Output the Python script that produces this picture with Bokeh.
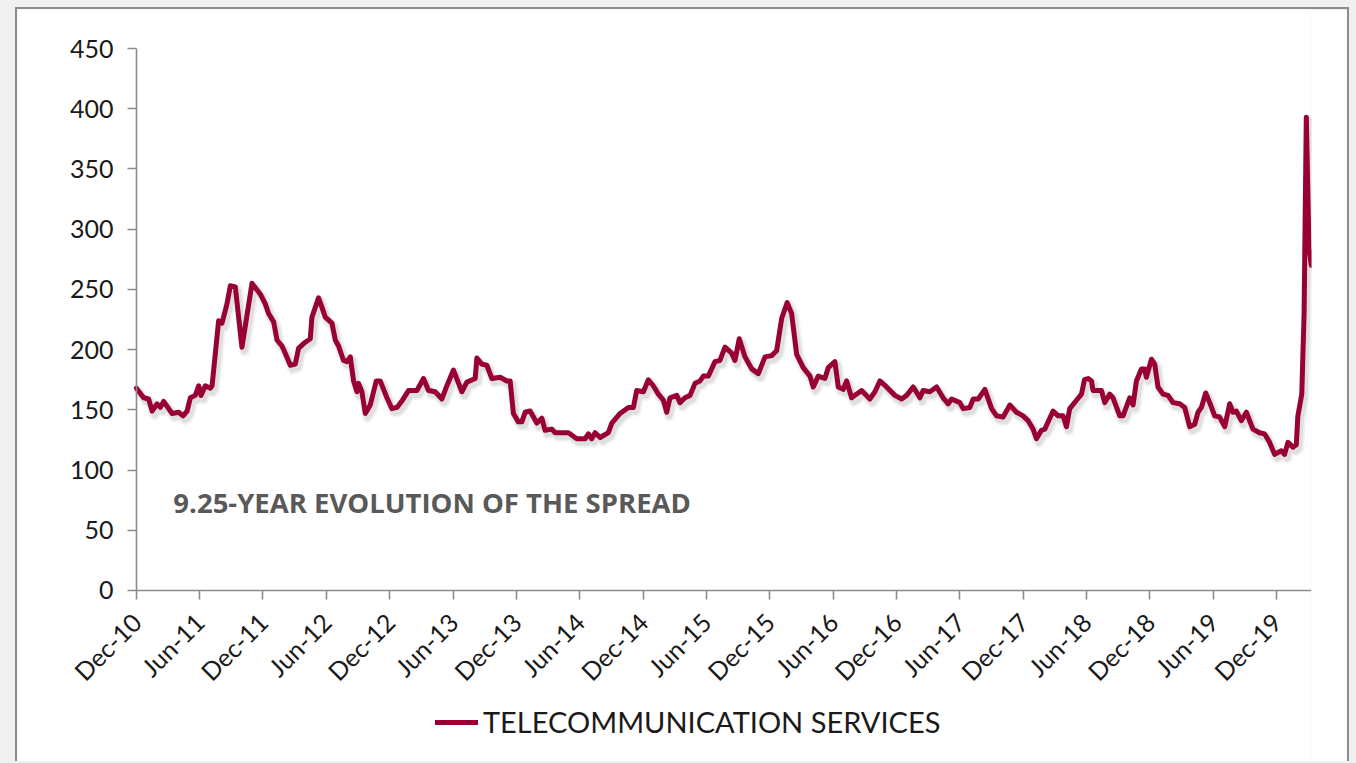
import numpy as np
import pandas as pd
from math import pi
from bokeh.plotting import figure
from bokeh.models import (Range1d, FixedTicker, DatetimeTickFormatter, Legend,
                          LegendItem, Label, ColumnDataSource)
from bokeh.layouts import column
from bokeh.embed import file_html
from bokeh.resources import INLINE

# ---------------- data ----------------
series_name = "TELECOMMUNICATION SERVICES"
annotation_text = "9.25-YEAR EVOLUTION OF THE SPREAD"

# observation time, in months elapsed since 1 Dec 2010
months_since_dec10 = [
    0.00, 0.69, 1.16, 1.49, 1.96, 2.27, 2.58, 3.38, 4.00, 4.42, 4.80, 5.11, 5.58, 5.90, 6.12, 6.53,
    7.00, 7.17, 7.79, 8.11, 8.58, 8.90, 9.37, 10.00, 10.95, 11.74, 12.21, 12.52, 13.00, 13.32, 13.79,
    14.10, 14.58, 15.05, 15.36, 15.84, 16.47, 16.63, 17.25, 17.58, 17.89, 18.52, 18.84, 19.15, 19.62,
    19.94, 20.26, 20.57, 20.89, 21.04, 21.36, 21.68, 22.15, 22.72, 23.09, 23.73, 24.20, 24.68, 25.20,
    25.77, 26.57, 27.19, 27.67, 28.30, 28.94, 29.41, 30.03, 30.83, 31.30, 32.09, 32.25, 32.72, 33.19,
    33.67, 34.45, 35.09, 35.40, 35.71, 36.18, 36.51, 36.82, 37.29, 37.93, 38.40, 38.71, 39.35, 39.66,
    40.92, 41.71, 42.50, 42.81, 43.13, 43.45, 43.92, 44.70, 45.03, 45.81, 46.60, 47.07, 47.39, 48.02,
    48.49, 48.96, 49.44, 49.91, 50.23, 50.54, 51.18, 51.49, 51.96, 52.44, 52.91, 53.38, 53.70, 54.17,
    54.80, 55.27, 55.75, 56.38, 56.69, 57.10, 57.64, 58.28, 58.90, 59.54, 60.17, 60.64, 61.12, 61.64,
    62.06, 62.54, 63.16, 63.80, 64.11, 64.58, 65.21, 65.53, 66.16, 66.48, 66.95, 67.27, 67.74, 68.69,
    69.47, 69.95, 70.42, 71.05, 71.84, 72.48, 72.95, 73.57, 74.21, 74.52, 75.15, 75.79, 76.41, 76.89,
    77.21, 77.99, 78.31, 78.94, 79.26, 79.73, 80.36, 81.00, 81.47, 82.09, 82.73, 83.36, 83.98, 84.46,
    84.93, 85.25, 85.72, 86.04, 86.82, 87.30, 87.77, 88.09, 88.40, 89.04, 89.51, 89.80, 90.15, 90.46,
    90.61, 91.41, 91.72, 92.19, 92.50, 93.14, 93.45, 94.08, 94.40, 94.72, 95.19, 95.50, 95.66, 96.14,
    96.45, 96.76, 97.24, 97.71, 98.18, 98.82, 99.29, 99.76, 100.24, 100.55, 100.87, 101.28, 101.66,
    102.13, 102.60, 103.08, 103.55, 103.86, 104.18, 104.65, 105.13, 105.75, 106.38, 106.86, 107.33,
    107.81, 108.44, 108.75, 109.07, 109.54, 109.86, 110.01, 110.38, 110.60, 110.81, 111.06, 111.28,
]

spread_bp = [
    168, 160, 159, 149, 155, 152, 157, 147, 148, 145, 149, 160, 162, 170, 162, 170,
    168, 170, 224, 222, 238, 253, 252, 202, 255, 246, 238, 230, 223, 208, 203,
    197, 187, 188, 201, 205, 209, 227, 243, 235, 227, 222, 208, 203, 191,
    190, 194, 174, 165, 172, 165, 147, 154, 174, 174, 160, 151, 152, 158,
    166, 166, 176, 166, 165, 159, 170, 183, 165, 173, 176, 193, 188, 187,
    176, 177, 174, 174, 147, 140, 140, 148, 149, 139, 143, 133, 134, 131,
    131, 126, 126, 130, 126, 131, 127, 131, 139, 147, 152, 152, 166, 165,
    175, 170, 163, 158, 148, 160, 162, 156, 160, 162, 172, 174, 178, 178,
    190, 191, 202, 197, 191, 209, 194, 184, 180, 194, 195, 199, 226, 239,
    230, 196, 185, 178, 169, 178, 176, 185, 190, 169, 167, 174, 160, 166,
    159, 165, 174, 169, 162, 159, 162, 169, 160, 166, 165, 169, 160, 155,
    159, 156, 151, 152, 159, 159, 167, 151, 145, 144, 154, 148, 145, 141,
    134, 126, 133, 134, 149, 145, 145, 136, 151, 158, 163, 175, 176, 174,
    166, 166, 156, 163, 160, 145, 145, 160, 154, 174, 184, 184, 177, 192,
    188, 169, 163, 162, 156, 155, 152, 136, 138, 148, 152, 164, 156,
    145, 144, 136, 155, 148, 149, 141, 148, 134, 131, 130, 123,
    113, 116, 113, 123, 119, 121, 145, 163, 230, 393, 285, 270,
]

x_tick_dates = ["2010-12-01", "2011-06-01", "2011-12-01", "2012-06-01", "2012-12-01",
                "2013-06-01", "2013-12-01", "2014-06-01", "2014-12-01", "2015-06-01",
                "2015-12-01", "2016-06-01", "2016-12-01", "2017-06-01", "2017-12-01",
                "2018-06-01", "2018-12-01", "2019-06-01", "2019-12-01"]
y_ticks = [0, 50, 100, 150, 200, 250, 300, 350, 400, 450]

# ---------------- build ----------------
MONTH = 30.4375  # days
start = pd.Timestamp("2010-12-01")
dates = start + pd.to_timedelta(np.array(months_since_dec10) * MONTH, unit="D")
src = ColumnDataSource(dict(date=dates, spread=spread_bp))
shadow_src = ColumnDataSource(dict(date=dates + pd.Timedelta(days=7),
                                   spread=np.array(spread_bp) - 3.0))

def ms(ts):
    return pd.Timestamp(ts).value / 1e6

x_end = start + pd.Timedelta(days=111.3 * MONTH)
# room to the left of the first date for the y-axis labels (inside the frame)
x_begin = start - pd.Timedelta(days=11.26 * MONTH)

p = figure(width=1334, height=754, x_axis_type="datetime",
           output_backend="svg", toolbar_location=None,
           x_range=Range1d(ms(x_begin), ms(x_end)), y_range=Range1d(-142, 482.4),
           min_border_left=0, min_border_right=40, min_border_top=0,
           min_border_bottom=2)
p.margin = (7, 0, 0, 15)
p.styles = {"border-left": "2px solid #8c8c8c",
            "border-top": "2px solid #8c8c8c",
            "border-right": "2px solid #8c8c8c"}
p.outline_line_color = None
p.background_fill_color = "white"
p.border_fill_color = "white"
p.xgrid.visible = False
p.ygrid.visible = False

# soft drop shadow of the line
p.line("date", "spread", source=shadow_src, line_width=11, line_color="#000000",
       line_alpha=0.05, line_join="round", line_cap="round")
p.line("date", "spread", source=shadow_src, line_width=7, line_color="#000000",
       line_alpha=0.08, line_join="round", line_cap="round")
main = p.line("date", "spread", source=src, line_width=5, line_color="#990033",
              line_join="round", line_cap="round")

tick_font = "Lato"
for ax in (p.xaxis[0], p.yaxis[0]):
    ax.axis_line_color = "#8c8c8c"
    ax.axis_line_width = 1.6
    ax.major_tick_line_color = "#8c8c8c"
    ax.major_tick_line_width = 1.6
    ax.major_tick_out = 9
    ax.major_tick_in = 0
    ax.minor_tick_line_color = None
    ax.major_label_text_font = tick_font
    ax.major_label_text_font_size = "25px"
    ax.major_label_text_color = "#1a1a1a"

p.yaxis[0].fixed_location = ms(start)
p.yaxis[0].ticker = FixedTicker(ticks=y_ticks)
p.yaxis[0].bounds = (0, 450)
p.yaxis[0].major_label_standoff = 14

p.xaxis[0].fixed_location = 0
p.xaxis[0].bounds = (ms(start), ms(x_end))
p.xaxis[0].ticker = FixedTicker(ticks=[ms(d) for d in x_tick_dates])
fmt = "%b-%y"
p.xaxis[0].formatter = DatetimeTickFormatter(years=fmt, months=fmt, days=fmt, hours=fmt,
                                             hourmin=fmt, minutes=fmt, minsec=fmt,
                                             seconds=fmt, milliseconds=fmt, microseconds=fmt)
p.xaxis[0].major_label_orientation = pi / 4
p.xaxis[0].major_label_standoff = 18

p.add_layout(Label(x=ms(start + pd.Timedelta(days=3.5 * MONTH)), y=73,
                   text=annotation_text, text_font="Open Sans", text_font_style="bold",
                   text_font_size="27.5px", text_color="#595959",
                   text_baseline="alphabetic"))

legend = Legend(items=[LegendItem(label=series_name, renderers=[main])],
                location=(418, 22), orientation="horizontal",
                glyph_width=43, glyph_height=20, label_standoff=5,
                padding=0, margin=0, border_line_color=None,
                background_fill_alpha=0,
                label_text_font="Lato", label_text_font_size="29px",
                label_text_color="#1a1a1a")
p.add_layout(legend)

layout = column(p, width=1356, height=763, styles={"background-color": "#f0f0f0"})

open("out.html", "w").write(file_html(layout, INLINE))
